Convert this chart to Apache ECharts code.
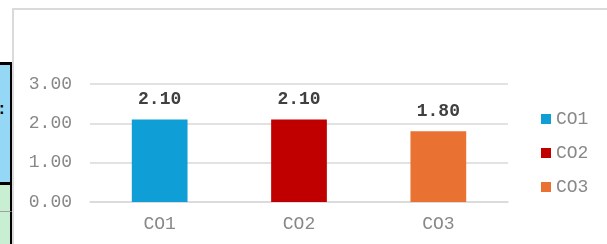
<!DOCTYPE html>
<html>
<head>
<meta charset="utf-8">
<title>CO chart</title>
<script src="https://cdn.jsdelivr.net/npm/echarts@6/dist/echarts.min.js"></script>
<style>
	html, body { margin: 0; padding: 0; background: #fff; }
	#page { position: relative; width: 607px; height: 244px; overflow: hidden; }
	/* spreadsheet cells peeking out on the left */
	.cell { position: absolute; box-sizing: border-box; }
	#cellBlue { left: 0; top: 62px; width: 13px; height: 123px; background: #94d8f6; border-top: 3px solid #000; border-bottom: 3px solid #000; border-right: 3px solid #000; }
	#cellBlue span { position: absolute; left: -3px; top: 36px; font: bold 16px "Liberation Mono", monospace; color: #000; }
	#cellGreen1 { left: 0; top: 185px; width: 13px; height: 27px; background: #c9efd3; border-right: 3px solid #000; border-bottom: 1px solid #a0a0a0; }
	#cellGreen2 { left: 0; top: 212px; width: 13px; height: 40px; background: #c9efd3; border-right: 3px solid #000; }
	/* chart frame */
	#frame { position: absolute; left: 12px; top: 8px; width: 620px; height: 260px; box-sizing: border-box; border-top: 2px solid #dadada; border-left: 2px solid #dadada; background: #fff; }
	#chart { position: absolute; left: 0; top: 0; width: 607px; height: 244px; }
</style>
</head>
<body>
<div id="page">
	<div id="cellBlue" class="cell"><span>:</span></div>
	<div id="cellGreen1" class="cell"></div>
	<div id="cellGreen2" class="cell"></div>
	<div id="frame"></div>
	<div id="chart"></div>
</div>
<script>
	// 数据
	var categories = ["CO1", "CO2", "CO3"];
	var values = [2.10, 2.10, 1.80];
	var barColors = ["#0f9ed5", "#c00000", "#e97132"];
	var yTicks = [0, 1, 2, 3];

(function(echarts){
	"use strict";
	var font = "'Liberation Mono', 'Courier New', monospace";
	var chart = echarts.init(document.getElementById("chart"));

	//每个类别一个系列，这样图例能显示 CO1/CO2/CO3
	var series = [];
	for (var i = 0; i < categories.length; i++) {
		var data = [];
		for (var j = 0; j < categories.length; j++) {
			data.push(i === j ? values[j] : "-");
		}
		series.push({
			name: categories[i],
			type: "bar",
			data: data,
			barWidth: "40%",
			barGap: "-100%",
			itemStyle: { color: barColors[i] },
			label: {
				show: true,
				position: "top",
				distance: 11,
				fontFamily: font,
				fontSize: 18,
				fontWeight: "bold",
				color: "#404040",
				formatter: function(p){ return p.value.toFixed(2); }
			}
		});
	}

	var option = {
		animation: false,
		backgroundColor: "transparent",
		grid: { left: 90, right: 99, top: 84, bottom: 42 },
		legend: {
			orient: "vertical",
			left: 536,
			top: 105,
			itemWidth: 10,
			itemHeight: 10,
			itemGap: 16,
			icon: "rect",
			data: categories,
			textStyle: { fontFamily: font, fontSize: 18, color: "#888" }
		},
		xAxis: {
			type: "category",
			data: categories,
			axisLine: { lineStyle: { color: "#d9d9d9", width: 1.5 } },
			axisTick: { show: false },
			axisLabel: { margin: 13, fontFamily: font, fontSize: 18, color: "#888" }
		},
		yAxis: {
			type: "value",
			min: yTicks[0],
			max: yTicks[yTicks.length - 1],
			interval: yTicks[1] - yTicks[0],
			axisLine: { show: false },
			axisTick: { show: false },
			splitLine: { lineStyle: { color: "#d9d9d9", width: 1.5 } },
			axisLabel: {
				margin: 18,
				fontFamily: font,
				fontSize: 18,
				color: "#888",
				formatter: function(v){ return v.toFixed(2); }
			}
		},
		series: series
	};
	chart.setOption(option);
})(echarts);
</script>
</body>
</html>
